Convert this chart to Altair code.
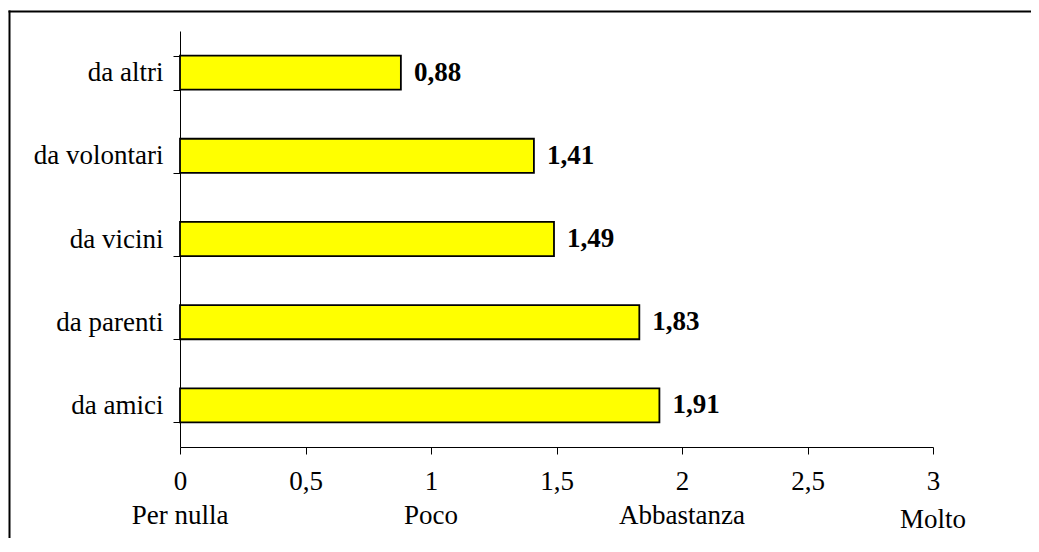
import altair as alt
import pandas as pd

categories = ["da altri", "da volontari", "da vicini", "da parenti", "da amici"]
values = [0.88, 1.41, 1.49, 1.83, 1.91]
scale_values = [0, 1, 2, 3]
scale_names = ["Per nulla", "Poco", "Abbastanza", "Molto"]
x_ticks = [0, 0.5, 1, 1.5, 2, 2.5, 3]

FONT = "Liberation Serif"
FS = 27

df = pd.DataFrame({"cat": categories, "val": values})
df_scale = pd.DataFrame({"v": scale_values, "name": scale_names})
df_one = pd.DataFrame({"a": [0]})

x_enc = alt.X(
    "val:Q",
    scale=alt.Scale(domain=[0, 3], nice=False, zero=True),
    axis=alt.Axis(
        values=x_ticks,
        title=None,
        grid=False,
        labelExpr="replace(format(datum.value, '~g'), '.', ',')",
        labelFont=FONT,
        labelFontSize=FS,
        labelColor="black",
        labelPadding=14,
        tickSize=7,
        tickColor="black",
        domainColor="black",
        labelFlush=False,
    ),
)
y_enc = alt.Y(
    "cat:N",
    sort=categories,
    scale=alt.Scale(paddingInner=0.59, paddingOuter=0.295),
    axis=alt.Axis(
        title=None,
        grid=False,
        tickBand="extent",
        labelFont=FONT,
        labelFontSize=FS,
        labelColor="black",
        labelPadding=10,
        tickSize=7,
        tickColor="black",
        domainColor="black",
        labelLimit=300,
    ),
)

bars = alt.Chart(df).mark_bar(
    fill="#FFFF00", stroke="black", strokeWidth=1.8
).encode(x=x_enc, y=y_enc)

labels = alt.Chart(df).transform_calculate(
    lab="replace(format(datum.val, '.2f'), '.', ',')"
).mark_text(
    align="left", baseline="middle", dx=13, font=FONT, fontSize=FS,
    fontWeight="bold", color="black"
).encode(x="val:Q", y=alt.Y("cat:N", sort=categories), text="lab:N")

names_a = alt.Chart(df_scale).transform_filter(
    "datum.v < 3"
).mark_text(
    align="center", baseline="alphabetic", font=FONT, fontSize=FS, color="black"
).encode(x="v:Q", y=alt.value(492.5), text="name:N")

names_b = alt.Chart(df_scale).transform_filter(
    "datum.v >= 3"
).mark_text(
    align="center", baseline="alphabetic", font=FONT, fontSize=FS, color="black"
).encode(x="v:Q", y=alt.value(496.5), text="name:N")

frame_top = alt.Chart(df_one).mark_rect(
    fill="black", strokeWidth=0
).encode(x=alt.value(-171.5), x2=alt.value(851), y=alt.value(-20.5), y2=alt.value(-18.5))

frame_left = alt.Chart(df_one).mark_rect(
    fill="black", strokeWidth=0
).encode(x=alt.value(-171.5), x2=alt.value(-169.5), y=alt.value(-20.5), y2=alt.value(513))

chart = alt.layer(frame_top, frame_left, bars, labels, names_a, names_b).properties(
    width=753,
    height=416,
    autosize=alt.AutoSizeParams(type="none"),
    padding={"left": 172, "top": 23, "right": 98, "bottom": 91},
    background="white",
).configure_view(stroke=None)

chart.save("out.html", embed_options={"renderer": "svg", "actions": False})
